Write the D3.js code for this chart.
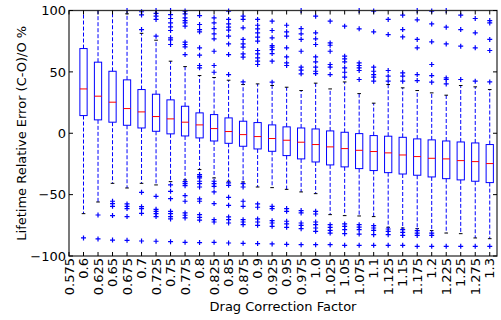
<!DOCTYPE html>
<html><head><meta charset="utf-8">
<script src="https://cdn.jsdelivr.net/npm/d3@7"></script>
<style>body{margin:0;background:#fff}text{font-family:"DejaVu Sans",sans-serif;fill:#000}</style>
</head><body><svg id="c" width="501" height="320"></svg>
<script>
// tick labels (position 0..29); boxes sit at positions 1..29
const tickLabels = ["0.575","0.6","0.625","0.65","0.675","0.7","0.725","0.75","0.775","0.8","0.825","0.85","0.875","0.9","0.925","0.95","0.975","1.0","1.025","1.05","1.075","1.1","1.125","1.15","1.175","1.2","1.225","1.25","1.275","1.3"];
const yTicks = [-100,-50,0,50,100];

const q3 = [69.0,57.9,50.5,43.5,35.6,31.8,27.2,22.0,16.6,15.2,12.5,9.8,8.7,6.8,5.2,4.3,3.5,1.9,0.8,-0.3,-1.9,-2.4,-3.3,-4.6,-5.4,-6.3,-7.1,-7.9,-9.2];
const median = [36.1,30.2,25.3,20.1,17.4,13.6,11.7,9.0,6.8,3.8,1.4,-1.1,-2.7,-4.3,-5.7,-7.3,-9.2,-11.1,-12.5,-13.9,-14.9,-16.0,-17.7,-19.0,-20.4,-20.9,-22.3,-23.1,-24.7];
const q1 = [14.4,10.9,9.0,6.5,4.3,1.6,-0.5,-2.2,-3.8,-6.3,-8.2,-10.6,-12.8,-14.7,-18.2,-20.9,-23.4,-25.8,-27.4,-28.8,-30.4,-32.1,-33.2,-34.2,-35.6,-37.0,-38.0,-39.1,-40.2];
const whiskerHigh = [110,110,110,97.3,81.4,75.8,58.7,54.3,47.0,45.4,43.2,39.7,40.2,38.9,37.5,34.8,40.8,36.1,41.8,32.3,24.5,39.7,37.0,34.8,32.9,31.0,38.9,37.8,35.6];
const whiskerLow = [-65.5,-56.0,-40.8,-44.6,-40.8,-42.1,-39.4,-38.0,-29.6,-36.4,-39.1,-39.7,-43.8,-44.3,-45.7,-47.8,-49.2,-66.3,-67.1,-67.4,-67.9,-76.6,-77.2,-77.7,-79.3,-81.3,-81.8,-85.3,-85.9];
const outliers = [
 [-85.3],
 [-66.6,-86.1],
 [-55.4,-57.3,-59.5,-67.1,-87.0],
 [100,-57.6,-59.5,-61.4,-67.9,-87.2],
 [99,96.4,84.5,-48.1,-59.8,-61.4,-65.2,-87.8],
 [100,97.6,95.4,92.7,79.1,-51.4,-62,-63.6,-65.5,-67.9,-88],
 [100,96.7,93.5,89.9,86.7,83.7,77.7,76.1,72.3,-42.1,-47.3,-53.3,-63.6,-65.5,-67.9,-69.8,-88.3],
 [99.5,97.3,94,91.8,89.9,87.2,74.2,72.3,70.4,64.1,-39.4,-41.0,-42.7,-50.8,-55.4,-64.9,-66.8,-69,-88.9],
 [95.9,88.6,84.5,82.6,69.6,63.6,55.2,53.3,-33.7,-35.1,-36.4,-39.1,-41,-43.8,-53.5,-55.4,-66.3,-68.5,-70.7,-89.1],
 [94,89.9,85.3,81,76.9,66.8,55.2,49.7,-39.1,-41.0,-43.2,-47.8,-57.3,-70.4,-72.3,-88.9],
 [99.5,92.7,89.1,86.4,84,79.1,72.8,64.1,47.8,-40.5,-42.4,-52.2,-58.7,-68.2,-70.4,-73.1,-89.4],
 [95.4,92.7,85.9,76.4,72.8,70.1,64.7,62,41.8,-41,-43.8,-55.4,-59.5,-70.4,-72.3,-74.5,-89.7],
 [92.7,88,85.1,81.8,78.3,75,67.4,64.7,61.4,58.7,56,-57.6,-60.3,-69.8,-72.3,-75,-89.9],
 [91.3,83.7,77.7,71.5,70.1,68.2,64.9,58.7,41.6,-59.5,-61.4,-71.2,-73.1,-75.8,-90.2],
 [88,82.6,79.1,69.6,62.2,57.3,55.2,-61.4,-63.6,-71.7,-73.9,-76.6,-90.5],
 [100,85.3,81,76.4,66.8,53.8,51.4,48.4,-63,-64.9,-73.1,-75,-77.7,-90.8],
 [95.4,81.8,76.9,72.3,62.2,58.2,53.8,50.5,48.6,-63.6,-65.8,-72.3,-74.5,-77.2,-79.9,-90.8],
 [91.3,73.6,71.7,66.8,56,53.8,47.8,-74.5,-76.6,-79.1,-81.3,-90.8],
 [87.2,62.8,60.6,58.2,53.3,49.7,45.7,-73.9,-75.8,-78.5,-81.8,-91.3],
 [100,85.1,57.3,55.2,53.3,51.1,43.8,-74.5,-76.4,-78.5,-82.1,-91.3],
 [99.5,82.6,53.8,50.5,47.8,45.7,42.4,-75.3,-77.2,-79.1,-82.6,-91.3],
 [92.7,80.4,51.1,46.5,42.4,-78,-79.9,-82.6,-91.3],
 [96.2,84.5,78.5,49.2,46.5,42.4,-78.5,-80.7,-83.2,-91.3],
 [100,92.4,76.4,69.6,47.8,42.9,-79.3,-81.3,-83.2,-92.1],
 [99.5,89.1,74.5,56,47,41.6,-81.3,-83.2,-92.1],
 [100,86.4,72.8,45.1,43.8,40.2,-92.1],
 [96.2,84.5,70.9,43.8,-92.1],
 [93.5,81.8,69.6,42.4,-92.1],
 [91.8,89.9,76.4,67.4,41.8,-92.1]
];

const L=69,R=497,T=10.5,B=256;
const svg=d3.select("#c");
const x=d3.scaleLinear().domain([0,29.5]).range([L,R]);
const y=d3.scaleLinear().domain([-100,100]).range([B,T]);

const boxes=median.map((m,i)=>({pos:i+1,q1:q1[i],q3:q3[i],med:m,lo:whiskerLow[i],hi:whiskerHigh[i],out:outliers[i]}));

svg.append("clipPath").attr("id","clip").append("rect")
  .attr("x",L).attr("y",T).attr("width",R-L).attr("height",B-T);
const g=svg.append("g").attr("clip-path","url(#clip)");
const bw=0.25, cw=0.125;

// whiskers
g.selectAll(".wh").data(boxes.flatMap(b=>[[b.pos,b.q3,b.hi],[b.pos,b.q1,b.lo]])).join("line")
  .attr("x1",d=>x(d[0])).attr("x2",d=>x(d[0]))
  .attr("y1",d=>y(d[1])).attr("y2",d=>y(d[2]))
  .attr("stroke","#0000ff").attr("stroke-width",1).attr("stroke-dasharray","4,2");
// caps
g.selectAll(".cap").data(boxes.flatMap(b=>[[b.pos,b.hi],[b.pos,b.lo]])).join("line")
  .attr("x1",d=>x(d[0]-cw)).attr("x2",d=>x(d[0]+cw))
  .attr("y1",d=>y(d[1])).attr("y2",d=>y(d[1]))
  .attr("stroke","#000").attr("stroke-width",1);
// boxes
g.selectAll(".box").data(boxes).join("rect")
  .attr("x",d=>x(d.pos-bw)).attr("width",d=>x(d.pos+bw)-x(d.pos-bw))
  .attr("y",d=>y(d.q3)).attr("height",d=>y(d.q1)-y(d.q3))
  .attr("fill","none").attr("stroke","#0000ff").attr("stroke-width",1);
// medians
g.selectAll(".med").data(boxes).join("line")
  .attr("x1",d=>x(d.pos-bw)).attr("x2",d=>x(d.pos+bw))
  .attr("y1",d=>y(d.med)).attr("y2",d=>y(d.med))
  .attr("stroke","#ff0000").attr("stroke-width",1);
// fliers
const fl=boxes.flatMap(b=>b.out.map(v=>[b.pos,v]));
const fg=svg.append("g");
fg.selectAll(".fh").data(fl).join("path")
  .attr("d",d=>`M${x(d[0])-2.5},${y(d[1])}h5M${x(d[0])},${y(d[1])-2.5}v5`)
  .attr("stroke","#0000ff").attr("stroke-width",1.2).attr("fill","none");

// frame
svg.append("rect").attr("x",L).attr("y",T).attr("width",R-L).attr("height",B-T)
  .attr("fill","none").attr("stroke","#333").attr("stroke-width",1.3);

// ticks
const tk=svg.append("g").attr("stroke","#000").attr("stroke-width",1);
tickLabels.forEach((t,i)=>{
  tk.append("line").attr("x1",x(i)).attr("x2",x(i)).attr("y1",B).attr("y2",B-4);
  tk.append("line").attr("x1",x(i)).attr("x2",x(i)).attr("y1",T).attr("y2",T+4);
});
yTicks.forEach(v=>{
  tk.append("line").attr("x1",L).attr("x2",L+4).attr("y1",y(v)).attr("y2",y(v));
  tk.append("line").attr("x1",R).attr("x2",R-4).attr("y1",y(v)).attr("y2",y(v));
});

// tick labels
svg.selectAll(".xl").data(tickLabels).join("text")
  .attr("transform",(d,i)=>`translate(${x(i)},${B+2}) rotate(-90)`)
  .attr("text-anchor","end").attr("dy","0.35em").attr("font-size",13).text(d=>d);
svg.selectAll(".yl").data(yTicks).join("text")
  .attr("x",66).attr("y",d=>y(d)).attr("dy","0.36em")
  .attr("text-anchor","end").attr("font-size",13)
  .text(d=>d<0?"\u2212"+Math.abs(d):String(d));

// axis titles
svg.append("text").attr("x",(L+R)/2).attr("y",311).attr("text-anchor","middle")
  .attr("font-size",13).text("Drag Correction Factor");
svg.append("text").attr("transform",`translate(21,${(T+B)/2}) rotate(-90)`)
  .attr("text-anchor","middle").attr("dy","0.35em").attr("font-size",13)
  .text("Lifetime Relative Error (C-O)/O %");
</script></body></html>
